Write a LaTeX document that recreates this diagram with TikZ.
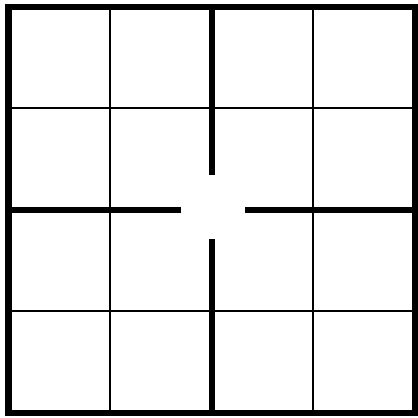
\documentclass[tikz,border=0pt]{standalone}
\usetikzlibrary{calc}

\begin{document}
\begin{tikzpicture}[x=1cm,y=1cm,
    fina/.style={line width=0.55pt},
    gruesa/.style={line width=1.7pt}]
  \useasboundingbox (-0.084,-0.05) rectangle (4.034,4.068);
  % thin lines of the grid (the middle ones are the cross)
  \foreach \k in {1,3} {
    \draw[fina] (\k,0) -- (\k,4);
    \draw[fina] (0,\k) -- (4,\k);
  }
  \draw[gruesa] (0,0) rectangle (4,4);
  \coordinate (centro) at (2,2);
  % the cross, open in the middle
  \draw[gruesa] (2,4) -- ($(centro)+(0,0.34)$);
  \draw[gruesa] (2,0) -- ($(centro)-(0,0.29)$);
  \draw[gruesa] (0,2) -- ($(centro)-(0.30,0)$);
  \draw[gruesa] (4,2) -- ($(centro)+(0.33,0)$);
\end{tikzpicture}
\end{document}
